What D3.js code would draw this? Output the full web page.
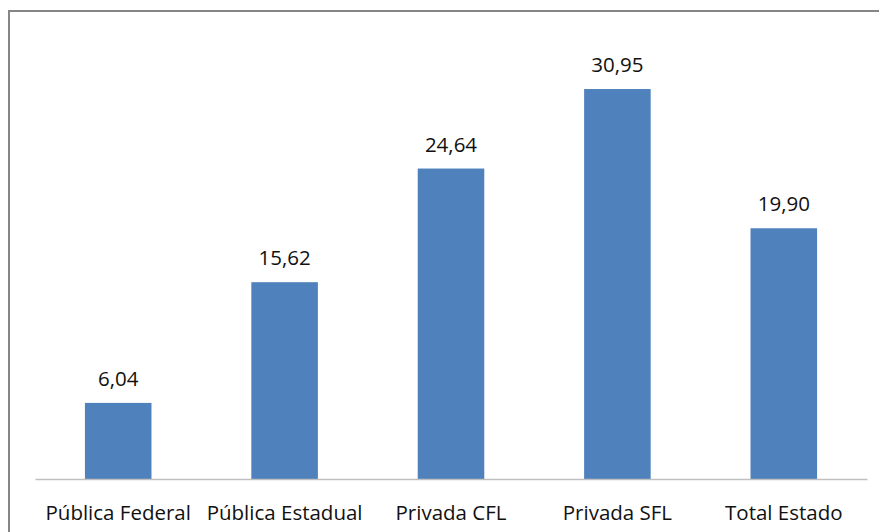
<!DOCTYPE html>
<html>
<head>
<meta charset="utf-8">
<script src="https://cdn.jsdelivr.net/npm/d3@7.8.5/dist/d3.min.js"></script>
<style>
  body { margin: 0; background: #fff; }
  svg { display: block; }
  text { font-family: "Open Sans", sans-serif; fill: #111; }
</style>
</head>
<body>
<div id="chart"></div>
<script>
const categories = ["Pública Federal", "Pública Estadual", "Privada CFL", "Privada SFL", "Total Estado"]
const values = [6.04, 15.62, 24.64, 30.95, 19.90]
const yMax = 35

const width = 879, height = 532
const margin = {top: 38, right: 12, bottom: 53, left: 35}

const data = categories.map((c, i) => ({category: c, value: values[i]}))

const svg = d3.select("#chart").append("svg")
  .attr("width", width)
  .attr("height", height)

// outer chart border (only top and left are inside the frame)
svg.append("rect")
  .attr("x", 9).attr("y", 11)
  .attr("width", 900).attr("height", 600)
  .attr("fill", "none")
  .attr("stroke", "#868686")
  .attr("stroke-width", 2)

const x = d3.scaleBand()
  .domain(categories)
  .range([margin.left, width - margin.right])
  .paddingInner(0.6)
  .paddingOuter(0.3)

const y = d3.scaleLinear()
  .domain([0, yMax])
  .range([height - margin.bottom, margin.top])

svg.selectAll("rect.bar")
  .data(data)
  .join("rect")
    .attr("class", "bar")
    .attr("x", d => x(d.category))
    .attr("y", d => y(d.value))
    .attr("width", x.bandwidth())
    .attr("height", d => y(0) - y(d.value))
    .attr("fill", "#4F81BD")

const xAxis = svg.append("g")
  .attr("transform", `translate(0,${y(0)})`)
  .call(d3.axisBottom(x).tickSize(0).tickPadding(26))
xAxis.select(".domain").attr("stroke", "#BFBFBF").attr("stroke-width", 1.5)
xAxis.selectAll("text")
  .attr("font-size", 20.5)
  .attr("font-family", "Open Sans")
  .attr("fill", "#111")

const fmt = v => d3.format(".2f")(v).replace(".", ",")

svg.selectAll("text.val")
  .data(data)
  .join("text")
    .attr("class", "val")
    .attr("x", d => x(d.category) + x.bandwidth() / 2)
    .attr("y", d => y(d.value) - 17)
    .attr("text-anchor", "middle")
    .attr("font-size", 20.5)
    .text(d => fmt(d.value))
</script>
</body>
</html>
